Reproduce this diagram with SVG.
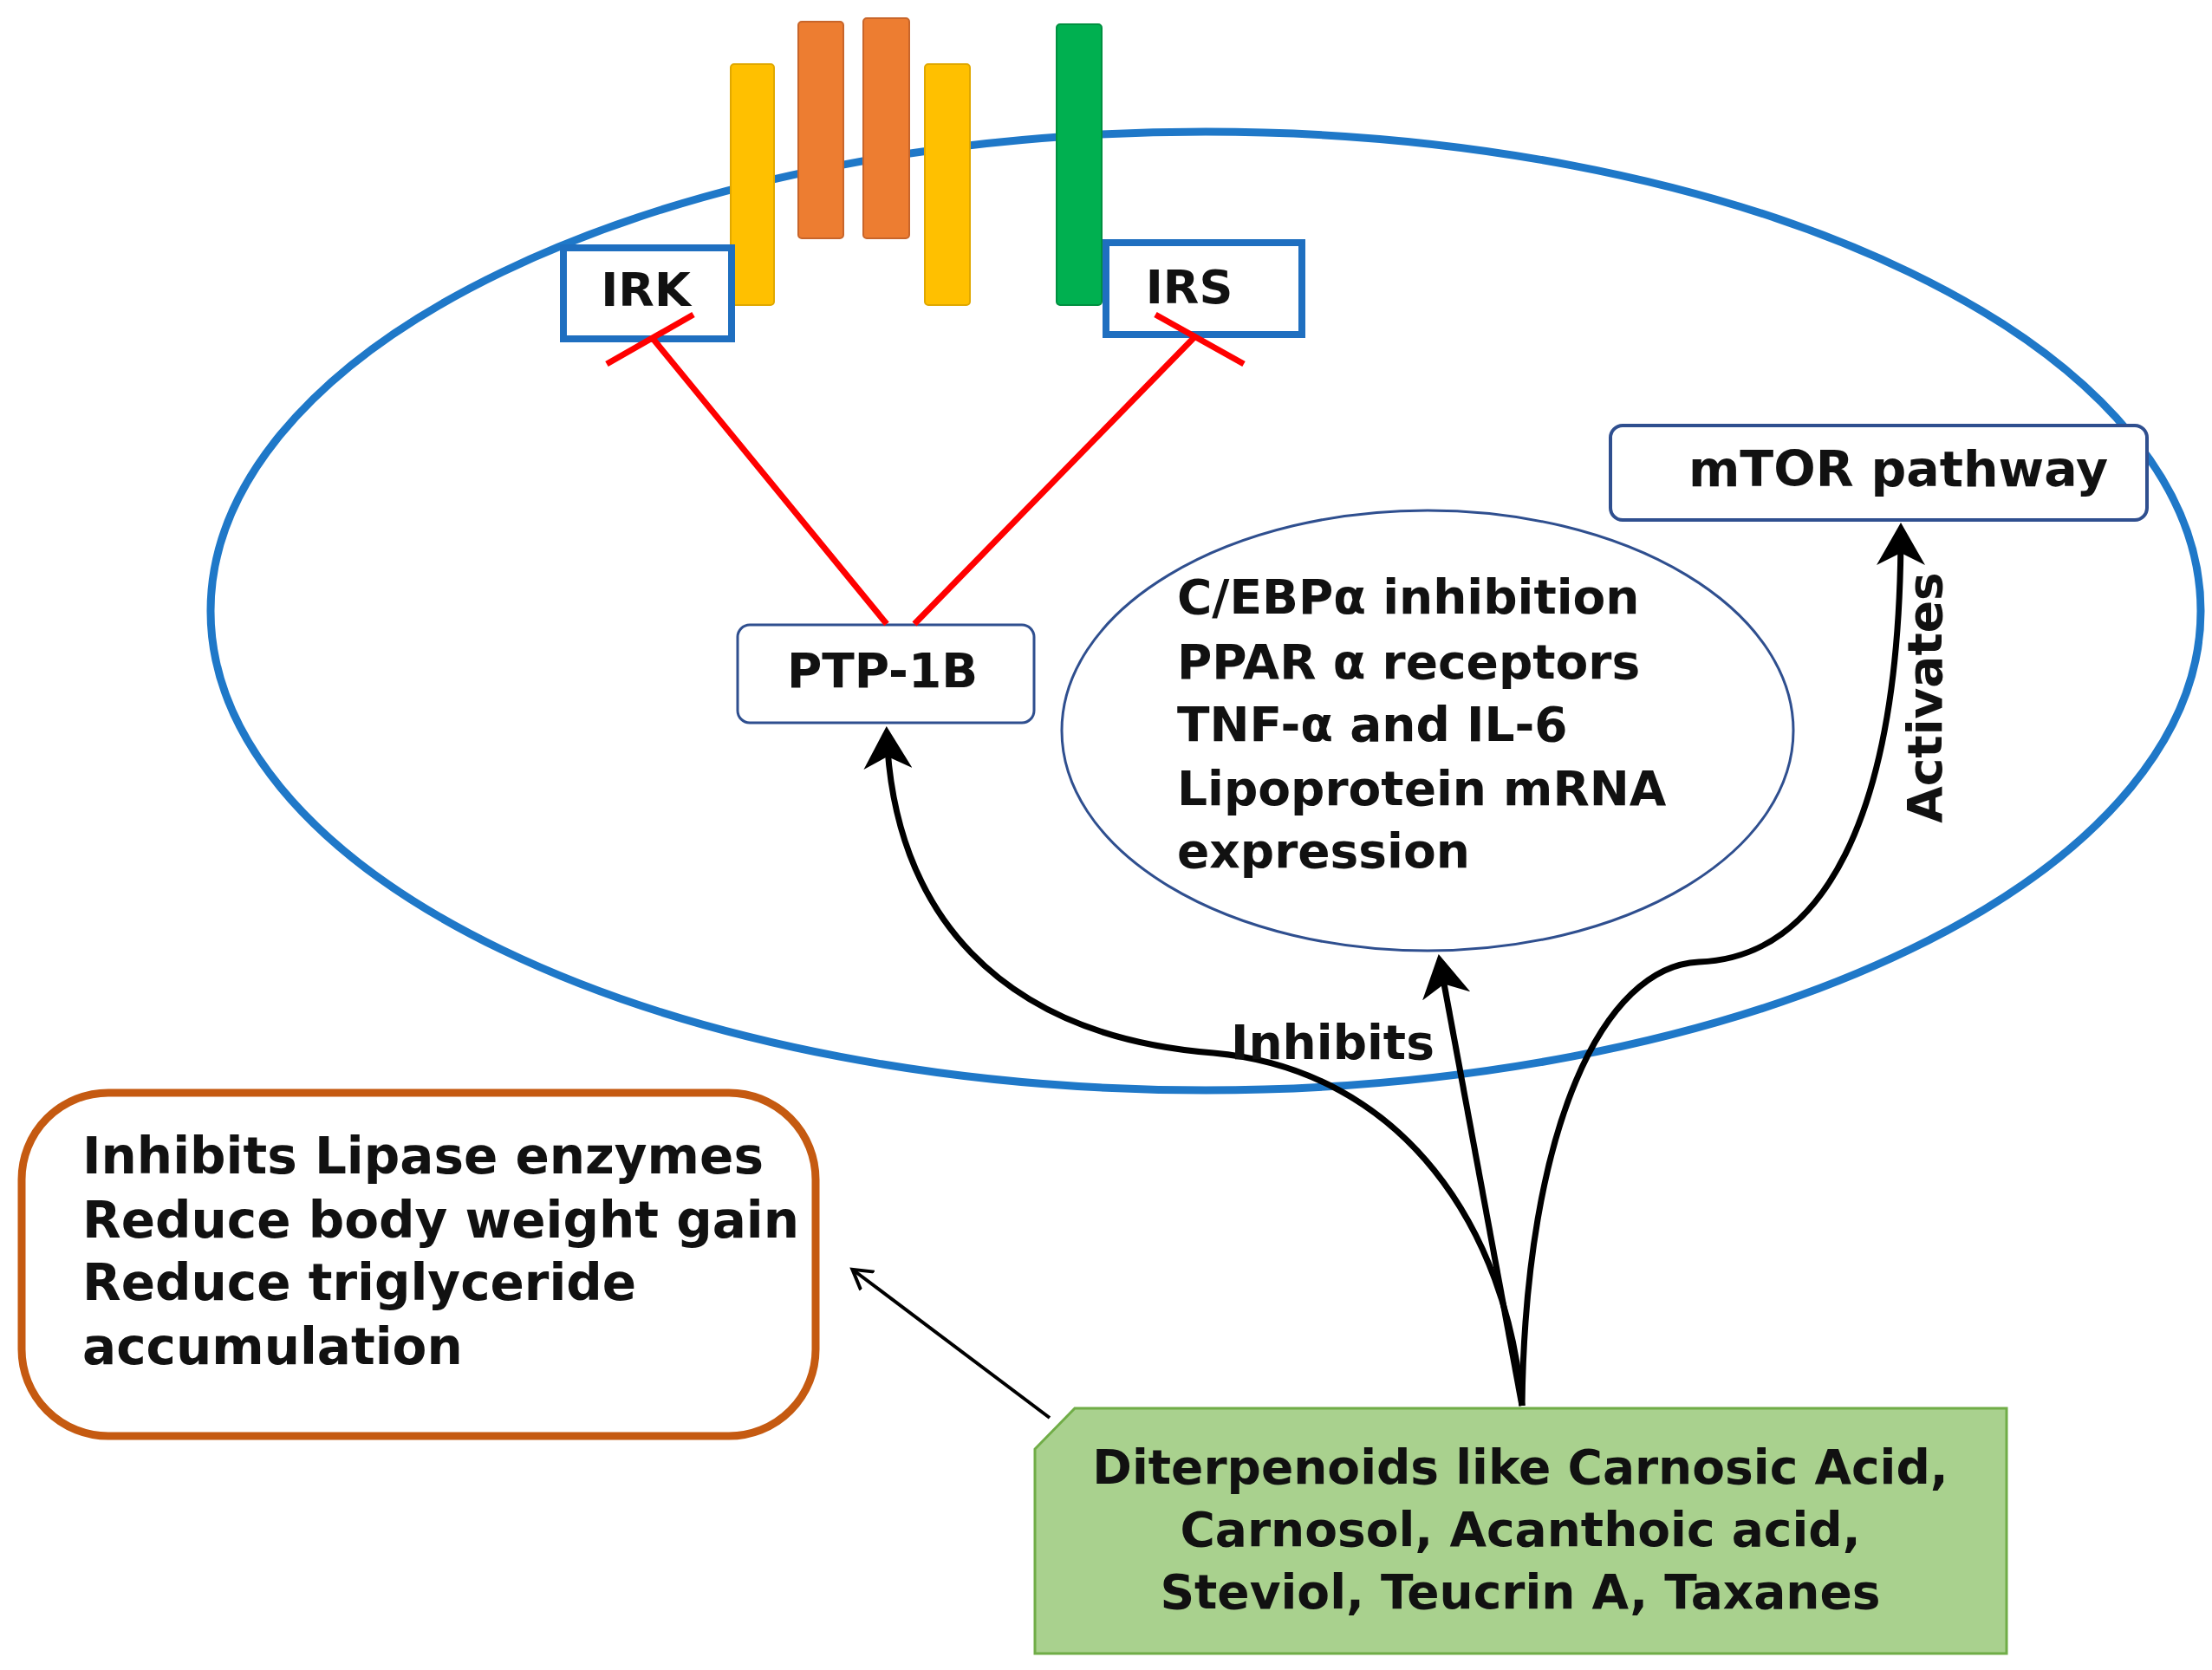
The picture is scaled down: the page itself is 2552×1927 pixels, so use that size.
<svg xmlns="http://www.w3.org/2000/svg" width="2552" height="1927" viewBox="0 0 2552 1927">
<style>
text{font-family:"DejaVu Sans","Liberation Sans",sans-serif;font-weight:bold;fill:#111}
.t{font-size:55px}
.red{stroke:#FF0000;stroke-width:7;fill:none}
.blk{stroke:#000;stroke-width:7;fill:none}
</style>
<defs>
<marker id="ah" markerWidth="8" markerHeight="8" refX="6" refY="4" orient="auto" markerUnits="strokeWidth"><path d="M0,0 L7,4 L0,8 L2,4 z" fill="#000"/></marker>
<marker id="oa" markerWidth="30" markerHeight="30" refX="20" refY="15" orient="auto" markerUnits="userSpaceOnUse"><path d="M0,2 L22,15 L0,28" fill="none" stroke="#000" stroke-width="4"/></marker>
</defs>
<rect width="2552" height="1927" fill="#fff"/>
<g id="cell"><ellipse cx="1391" cy="705" rx="1148" ry="553" fill="none" stroke="#1F78C8" stroke-width="9"/></g>
<g id="receptor">
<rect x="843" y="74" width="50" height="278" rx="4" fill="#FFC000" stroke="#E0A800" stroke-width="2"/>
<rect x="921" y="25" width="52" height="250" rx="4" fill="#ED7D31" stroke="#C8652A" stroke-width="2"/>
<rect x="996" y="21" width="53" height="254" rx="4" fill="#ED7D31" stroke="#C8652A" stroke-width="2"/>
<rect x="1067" y="74" width="52" height="278" rx="4" fill="#FFC000" stroke="#E0A800" stroke-width="2"/>
<rect x="1219" y="28" width="52" height="324" rx="4" fill="#00B050" stroke="#009040" stroke-width="2"/>
</g>
<g id="IRK"><rect x="650" y="286" width="194" height="105" fill="#fff" stroke="#1F6FC0" stroke-width="8"/><text x="745" y="353" text-anchor="middle" font-size="54">IRK</text></g>
<g id="IRS"><rect x="1276" y="280" width="226" height="106" fill="#fff" stroke="#1F6FC0" stroke-width="8"/><text x="1372" y="350" text-anchor="middle" font-size="54">IRS</text></g>
<g id="mTOR"><rect x="1858" y="491" width="619" height="109" rx="14" fill="#fff" stroke="#2F4F8F" stroke-width="4"/><text x="2190" y="561" text-anchor="middle" font-size="57">mTOR pathway</text></g>
<g id="PTP"><rect x="851" y="721" width="342" height="113" rx="14" fill="#fff" stroke="#2F4F8F" stroke-width="3"/><text x="1018" y="793" text-anchor="middle" class="t">PTP-1B</text></g>
<g id="targets"><ellipse cx="1647" cy="843" rx="422" ry="254" fill="#fff" stroke="#2F4F8F" stroke-width="3"/>
<text class="t" x="1358" y="708" font-size="56">C/EBPα inhibition</text>
<text class="t" x="1358" y="783">PPAR α receptors</text>
<text class="t" x="1358" y="855">TNF-α and IL-6</text>
<text class="t" x="1358" y="929">Lipoprotein mRNA</text>
<text class="t" x="1358" y="1001"> expression</text></g>
<g id="effects"><rect x="25" y="1261" width="916" height="396" rx="100" fill="#fff" stroke="#C55A11" stroke-width="9"/>
<text x="95" y="1354" font-size="58">Inhibits Lipase enzymes</text>
<text x="95" y="1428" font-size="58">Reduce body weight gain</text>
<text x="95" y="1500" font-size="58">Reduce triglyceride</text>
<text x="95" y="1574" font-size="58">accumulation</text></g>
<g id="diterpenoids"><path d="M1240,1625 L2315,1625 L2315,1908 L1194,1908 L1194,1672 Z" fill="#A9D18E" stroke="#70AD47" stroke-width="3"/>
<text x="1754" y="1712" text-anchor="middle" font-size="55">Diterpenoids like Carnosic Acid,</text>
<text x="1754" y="1784" text-anchor="middle" font-size="55">Carnosol, Acanthoic acid,</text>
<text x="1754" y="1856" text-anchor="middle" font-size="55">Steviol, Teucrin A, Taxanes</text></g>
<g id="connectors">
<path class="red" d="M1023,720 L751,388 M700,420 L800,363 M1055,720 L1379,388 M1333,363 L1435,420"/>
<path class="blk" marker-end="url(#ah)" d="M1756,1622 C1740,1420 1620,1235 1400,1215 C1150,1195 1030,1050 1023,845"/>
<path class="blk" marker-end="url(#ah)" d="M1756,1622 L1661,1108"/>
<path class="blk" marker-end="url(#ah)" d="M1756,1622 C1760,1300 1850,1115 1960,1110 C2100,1105 2193,950 2193,610"/>
<path d="M1211,1636 L985,1466" stroke="#000" stroke-width="4" fill="none" marker-end="url(#oa)"/>
<text class="t" x="1420" y="1222">Inhibits</text>
<text class="t" transform="translate(2240,805) rotate(-90)" text-anchor="middle">Activates</text>
</g>
</svg>
